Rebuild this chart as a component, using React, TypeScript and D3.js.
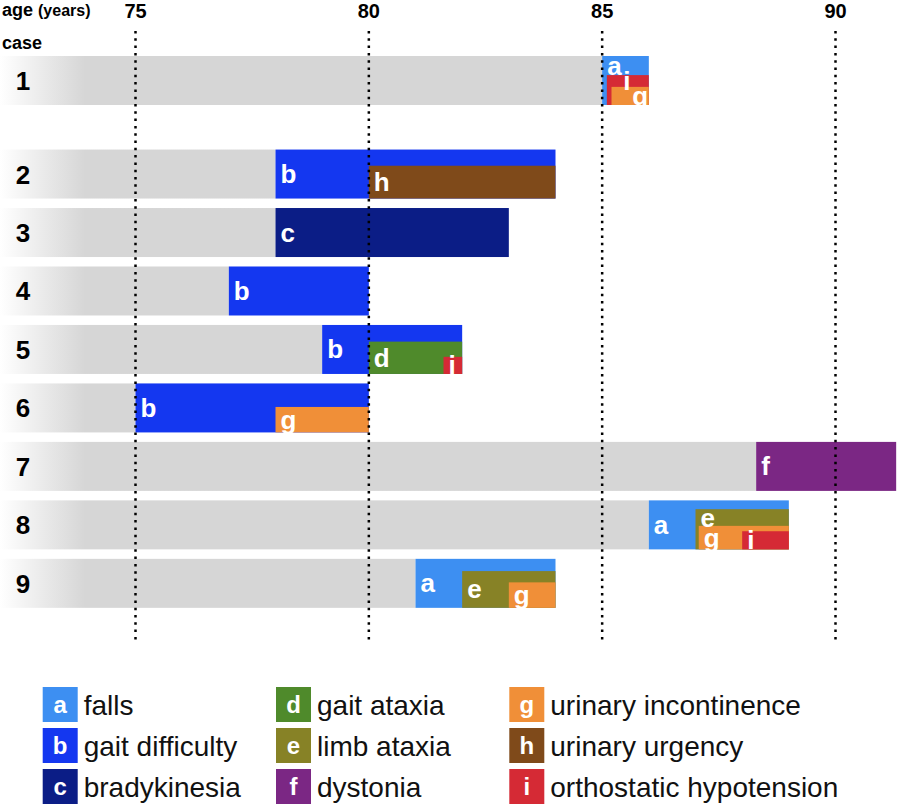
import React from "react";
import * as d3 from "d3";

const AGE_TICKS = [75, 80, 85, 90];
const CASES = ["1", "2", "3", "4", "5", "6", "7", "8", "9"];
const ONSET = [85, 78, 78, 77, 79, 75, 88.3, 86, 81];

const SEG_CASE = [0, 0, 0, 1, 1, 2, 3, 4, 4, 4, 5, 5, 6, 7, 7, 7, 7, 8, 8, 8];
const SEG_SYMBOL = ["a", "i", "g", "b", "h", "c", "b", "b", "d", "i", "b", "g", "f", "a", "e", "g", "i", "a", "e", "g"];
const SEG_START = [85, 85.1, 85.2, 78, 80, 78, 77, 79, 80, 81.6, 75, 78, 88.3, 86, 87, 87.07, 88, 81, 82, 83];
const SEG_END = [86, 86, 86, 84, 84, 83, 80, 82, 82, 82, 80, 80, 91.3, 89, 89, 89, 89, 84, 84, 84];
const SEG_LEVEL = [0, 0.39, 0.63, 0, 0.33, 0, 0, 0, 0.34, 0.65, 0, 0.48, 0, 0, 0.18, 0.52, 0.63, 0, 0.25, 0.48];

const SYMBOLS = ["a", "b", "c", "d", "e", "f", "g", "h", "i"];
const SYMPTOMS = [
  "falls",
  "gait difficulty",
  "bradykinesia",
  "gait ataxia",
  "limb ataxia",
  "dystonia",
  "urinary incontinence",
  "urinary urgency",
  "orthostatic hypotension",
];
const COLORS = ["#3d8ff2", "#1437f0", "#0b1d86", "#4f8a2b", "#878226", "#7b2784", "#f08f38", "#7f4a1a", "#d52a35"];

const FONT = "'Liberation Sans', Arial, Helvetica, sans-serif";
const W = 897;
const H = 806;

export default function App() {
  const x = d3.scaleLinear().domain([75, 90]).range([135.5, 835.5]);
  const slot = (i: number) => (i === 0 ? 0 : i + 0.6);
  const y = d3.scaleLinear().domain([0, 1]).range([56, 56 + 58.47]);
  const barH = 49;
  const color = d3.scaleOrdinal<string, string>().domain(SYMBOLS).range(COLORS);
  const grayStart = x.invert(0);

  const segs = SEG_CASE.map((c, k) => {
    const top = y(slot(c)) + SEG_LEVEL[k] * barH;
    return {
      c,
      sym: SEG_SYMBOL[k],
      start: SEG_START[k],
      end: SEG_END[k],
      top,
    };
  });

  // label placement
  const labels: { x: number; y: number; sym: string }[] = [];
  segs.forEach((s, k) => {
    const bottom = y(slot(s.c)) + barH;
    const next = segs.find(
      (o, j) => j > k && o.c === s.c && o.start - s.start < 0.5 && o.top > s.top
    );
    const lo = next ? next.top : bottom;
    const cy = (s.top + lo) / 2;
    let lx = x(s.start) + 5;
    labels
      .filter((l, j) => segs[j].c === s.c && Math.abs(l.y - cy) < 17)
      .forEach((l) => {
        const w = l.sym === "i" ? 8 : 15;
        if (lx < l.x + w + 1 && lx > l.x - 15) lx = l.x + w + 1;
      });
    labels.push({ x: lx, y: cy, sym: s.sym });
  });

  const legendCols = [42.7, 276, 509.3];
  const legendRows = [687, 728, 769];
  const sw = 35;

  return (
    <svg
      width={W}
      height={H}
      style={{ position: "absolute", left: 0, top: 0, background: "#fff" }}
      fontFamily={FONT}
    >
      <defs>
        <linearGradient id="fade" gradientUnits="userSpaceOnUse" x1={0} x2={85} y1={0} y2={0}>
          <stop offset="0" stopColor="#ffffff" />
          <stop offset="1" stopColor="#d6d6d6" />
        </linearGradient>
      </defs>

      {/* header */}
      <text x={2} y={16} fontSize={18} fontWeight="bold">
        age <tspan fontSize={16}>(years)</tspan>
      </text>
      <text x={2} y={49} fontSize={18} fontWeight="bold">
        case
      </text>
      {AGE_TICKS.map((t) => (
        <text key={t} x={x(t)} y={18} fontSize={20} fontWeight="bold" textAnchor="middle">
          {t}
        </text>
      ))}

      {/* gray pre-onset bars */}
      {CASES.map((c, i) => (
        <rect
          key={"g" + c}
          x={x(grayStart)}
          y={y(slot(i))}
          width={x(ONSET[i]) - x(grayStart)}
          height={barH}
          fill="url(#fade)"
        />
      ))}

      {/* symptom segments */}
      {segs.map((s, k) => (
        <rect
          key={"s" + k}
          x={x(s.start)}
          y={s.top}
          width={x(s.end) - x(s.start)}
          height={y(slot(s.c)) + barH - s.top}
          fill={color(s.sym)}
        />
      ))}

      {/* case numbers */}
      {CASES.map((c, i) => (
        <text
          key={"n" + c}
          x={23}
          y={y(slot(i)) + barH / 2 + 9.5}
          fontSize={26}
          fontWeight="bold"
          textAnchor="middle"
        >
          {c}
        </text>
      ))}

      {/* segment letters */}
      {labels.map((l, k) => (
        <text key={"l" + k} x={l.x} y={l.y + 9} fontSize={26} fontWeight="bold" fill="#fff">
          {l.sym}
        </text>
      ))}

      {/* dotted reference lines */}
      {AGE_TICKS.map((t) => (
        <line
          key={"d" + t}
          x1={x(t)}
          x2={x(t)}
          y1={31}
          y2={641}
          stroke="#000"
          strokeWidth={2.5}
          strokeDasharray="2.5,4.8"
        />
      ))}

      {/* legend */}
      {SYMBOLS.map((s, k) => {
        const col = Math.floor(k / 3);
        const row = k % 3;
        const lx = legendCols[col];
        const ly = legendRows[row];
        return (
          <g key={"lg" + s}>
            <rect x={lx} y={ly} width={sw} height={sw} fill={COLORS[k]} />
            <text
              x={lx + sw / 2}
              y={ly + sw / 2 + 8}
              fontSize={24}
              fontWeight="bold"
              fill="#fff"
              textAnchor="middle"
            >
              {s}
            </text>
            <text x={lx + sw + 6} y={ly + sw / 2 + 10} fontSize={28} fill="#111">
              {SYMPTOMS[k]}
            </text>
          </g>
        );
      })}
    </svg>
  );
}
